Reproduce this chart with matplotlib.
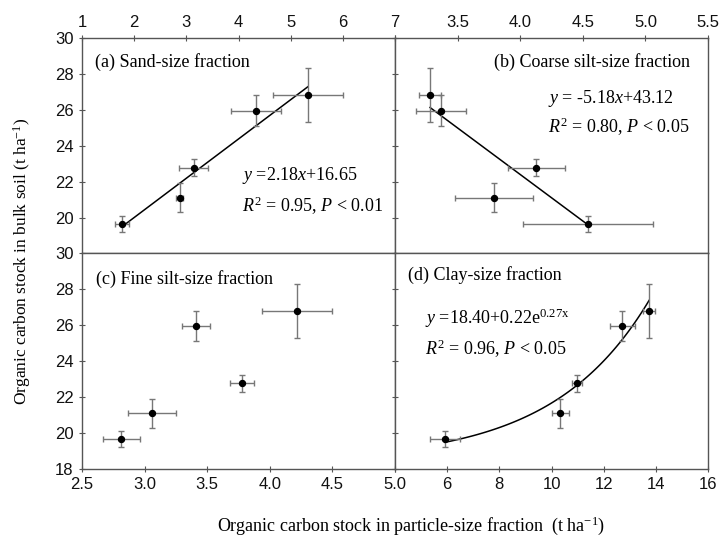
import numpy as np
import matplotlib
matplotlib.use("Agg")
import matplotlib.pyplot as plt

plt.rcParams['font.family'] = ['Liberation Sans', 'DejaVu Sans']
plt.rcParams['mathtext.fontset'] = 'custom'
plt.rcParams['mathtext.rm'] = 'Liberation Serif'
plt.rcParams['mathtext.it'] = 'Liberation Serif:italic'

# Bulk soil organic carbon stock (same y for every panel)
bulk_soc = [19.65, 21.1, 22.78, 25.96, 26.82]
bulk_err = [0.45, 0.8, 0.48, 0.85, 1.5]

# (a) sand-size fraction
sand_x = [1.77, 2.87, 3.14, 4.34, 5.33]
sand_xerr = [0.13, 0.07, 0.28, 0.48, 0.67]
# (b) coarse silt-size fraction
csilt_x = [4.54, 3.79, 4.13, 3.37, 3.28]
csilt_xerr = [0.52, 0.31, 0.23, 0.20, 0.09]
# (c) fine silt-size fraction
fsilt_x = [2.815, 3.06, 3.776, 3.41, 4.22]
fsilt_xerr = [0.145, 0.19, 0.096, 0.114, 0.28]
# (d) clay-size fraction
clay_x = [5.92, 10.33, 10.98, 12.72, 13.74]
clay_xerr = [0.56, 0.33, 0.18, 0.49, 0.24]

fig = plt.figure(figsize=(7.21, 5.39), dpi=100)
fig.subplots_adjust(left=82/721, right=708/721, top=1-38/539, bottom=1-469/539,
                    hspace=0, wspace=0)
axs = fig.subplots(2, 2)
ax_a, ax_b = axs[0]
ax_c, ax_d = axs[1]

spine_col = '#555555'
err_col = '#777777'
serif = 'Liberation Serif'
tfs = 13

def style(ax):
    for s in ax.spines.values():
        s.set_color(spine_col)
        s.set_linewidth(1.0)
    ax.tick_params(direction='inout', length=5, width=0.8, color=spine_col,
                   labelsize=12, labelcolor='#111111')

def pts(ax, x, xerr):
    ax.errorbar(x, bulk_soc, xerr=xerr, yerr=bulk_err, fmt='o', color='black',
                ms=4.3, ecolor=err_col, elinewidth=1.0, capsize=2.5, capthick=1.0,
                zorder=3)

def txt(ax, x, y, s, ha='left'):
    ax.text(x, y, s, transform=ax.transAxes, family=serif, fontsize=tfs,
            va='center', ha=ha)

for ax in (ax_a, ax_b, ax_c, ax_d):
    style(ax)
    ax.set_ylim(18, 30)

# (a)
pts(ax_a, sand_x, sand_xerr)
k, b0 = np.polyfit(sand_x, bulk_soc, 1)
xx = np.linspace(min(sand_x), max(sand_x), 50)
ax_a.plot(xx, k*xx + b0, color='black', lw=1.1, zorder=2)
ax_a.set_xlim(1, 7)
ax_a.xaxis.tick_top()
ax_a.set_xticks(range(1, 8))
ax_a.set_yticks([20, 22, 24, 26, 28, 30])
txt(ax_a, 0.041, 0.888, '(a) Sand-size fraction')
txt(ax_a, 0.511, 0.363, r'$y$ =2.18$x$+16.65')
txt(ax_a, 0.511, 0.223, r'$R^2$ = 0.95, $P$ < 0.01')

# (b)
pts(ax_b, csilt_x, csilt_xerr)
xx = np.linspace(min(csilt_x), max(csilt_x), 50)
ax_b.plot(xx, -5.18*xx + 43.12, color='black', lw=1.1, zorder=2)
ax_b.set_xlim(3.0, 5.5)
ax_b.xaxis.tick_top()
ax_b.set_xticks([3.0, 3.5, 4.0, 4.5, 5.0, 5.5])
ax_b.set_xticklabels(['', '3.5', '4.0', '4.5', '5.0', '5.5'])
ax_b.set_yticks([20, 22, 24, 26, 28, 30])
ax_b.set_yticklabels([])
txt(ax_b, 0.944, 0.888, '(b) Coarse silt-size fraction', ha='right')
txt(ax_b, 0.49, 0.721, r'$y$ = -5.18$x$+43.12')
txt(ax_b, 0.49, 0.586, r'$R^2$ = 0.80, $P$ < 0.05')

# (c)
pts(ax_c, fsilt_x, fsilt_xerr)
ax_c.set_xlim(2.5, 5.0)
ax_c.set_xticks([2.5, 3.0, 3.5, 4.0, 4.5, 5.0])
ax_c.set_xticklabels(['2.5', '3.0', '3.5', '4.0', '4.5', '5.0'])
ax_c.set_yticks([18, 20, 22, 24, 26, 28, 30])
txt(ax_c, 0.044, 0.883, '(c) Fine silt-size fraction')

# (d)
pts(ax_d, clay_x, clay_xerr)
xx = np.linspace(min(clay_x), max(clay_x), 100)
ax_d.plot(xx, 18.40 + 0.22*np.exp(0.27*xx), color='black', lw=1.1, zorder=2)
ax_d.set_xlim(4, 16)
ax_d.set_xticks([4, 6, 8, 10, 12, 14, 16])
ax_d.set_xticklabels(['', '6', '8', '10', '12', '14', '16'])
ax_d.set_yticks([18, 20, 22, 24, 26, 28, 30])
ax_d.set_yticklabels([])
txt(ax_d, 0.042, 0.90, '(d) Clay-size fraction')
txt(ax_d, 0.095, 0.698, r'$y$ =18.40+0.22e$^{\mathrm{0.27x}}$')
txt(ax_d, 0.095, 0.559, r'$R^2$ = 0.96, $P$ < 0.05')

fig.text(22/721, 1-261/539, 'Organic carbon stock in bulk soil (t ha$^{-1}$)',
         rotation=90, family=serif, fontsize=12.5, ha='center', va='center')
fig.text(411/721, 1-526/539, 'Organic carbon stock in particle-size fraction  (t ha$^{-1}$)',
         family=serif, fontsize=13, ha='center', va='center')

fig.savefig('out.png', dpi=100)
